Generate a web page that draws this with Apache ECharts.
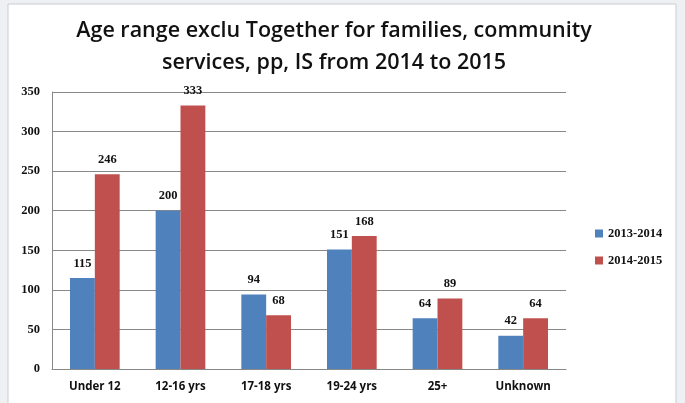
<!DOCTYPE html>
<html><head><meta charset="utf-8">
<script src="https://cdn.jsdelivr.net/npm/echarts@6/dist/echarts.min.js"></script>
<style>html,body{margin:0;padding:0;background:#eef0f3}#c{width:685px;height:403px}</style>
</head><body><div id="c"></div>
<script>
const categories = ['Under 12','12-16 yrs','17-18 yrs','19-24 yrs','25+','Unknown'];
const s2013 = [115,200,94,151,64,42];
const s2014 = [246,333,68,168,89,64];
const seriesNames = ['2013-2014','2014-2015'];
const yTicks = {min:0,max:350,interval:50};

const chart = echarts.init(document.getElementById('c'));
const numFont = 'Liberation Serif';
chart.setOption({
  backgroundColor:'#eef0f3',
  graphic:[{type:'rect',shape:{x:8,y:4,width:668,height:400},style:{fill:'#fff',stroke:'#c8ccd2',lineWidth:1},z:-10,silent:true}],
  title:{text:'Age range exclu Together for families, community\nservices, pp, IS from 2014 to 2015',left:329,textAlign:'center',top:10,
    textStyle:{fontFamily:'Open Sans',fontSize:21.5,fontWeight:'600',color:'#111',lineHeight:32}},
  legend:{orient:'vertical',left:590,top:222,itemWidth:8,itemHeight:8,itemGap:14,icon:'rect',
    textStyle:{fontFamily:numFont,fontWeight:'bold',fontSize:12.5,color:'#111'},data:seriesNames},
  grid:{left:52,right:119,top:92,bottom:34},
  xAxis:{type:'category',data:categories,axisTick:{show:false},
    axisLine:{lineStyle:{color:'#888'}},
    axisLabel:{fontFamily:'Open Sans',fontWeight:'bold',fontSize:11.5,color:'#111',margin:12}},
  yAxis:{type:'value',min:yTicks.min,max:yTicks.max,interval:yTicks.interval,
    axisLine:{show:true,lineStyle:{color:'#888'}},axisTick:{show:false},
    splitLine:{lineStyle:{color:'#888'}},
    axisLabel:{fontFamily:numFont,fontWeight:'bold',fontSize:12.5,color:'#111',margin:12}},
  series:[
    {name:seriesNames[0],type:'bar',data:s2013,barGap:'0%',barCategoryGap:'42%',
     itemStyle:{color:'#4f81bd'},
     label:{show:true,position:'top',distance:8,fontFamily:numFont,fontWeight:'bold',fontSize:12.5,color:'#111'}},
    {name:seriesNames[1],type:'bar',data:s2014,barGap:'0%',barCategoryGap:'42%',
     itemStyle:{color:'#c0504d'},
     label:{show:true,position:'top',distance:8,fontFamily:numFont,fontWeight:'bold',fontSize:12.5,color:'#111'}}
  ]
});
</script></body></html>
